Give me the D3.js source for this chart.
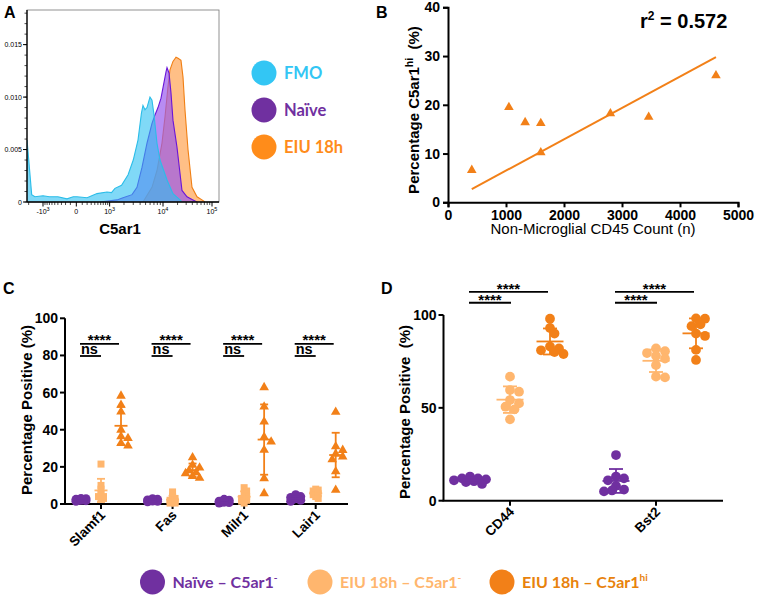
<!DOCTYPE html>
<html><head><meta charset="utf-8">
<script src="https://cdn.jsdelivr.net/npm/d3@7"></script>
<style>body{margin:0;background:#fff}svg{display:block}text{white-space:pre}</style>
</head><body><svg id="fig" width="758" height="598"></svg>
<script>
// ---------- DATA ----------
// Panel A: histogram outlines (C5ar1 channel value, density)
const fmoX = [-2150,-2150,-1742,-1500,-1000,-700,-400,-168,-50,10,200,470,867,1100,1310,1790,2400,3000,3662,4230,4500,4884,5296,5977,6476,7017,7896,8888,12120,16100,22450,24640];
const fmoY = [0,0.0059,0.0007,0.0005,0.0006,0.0005,0.0005,0.0003,0.0005,0.0005,0.0004,0.0008,0.00095,0.0009,0.0013,0.0016,0.0026,0.0040,0.0059,0.0085,0.0092,0.0088,0.0090,0.0100,0.0097,0.0083,0.0056,0.0040,0.0021,0.0008,0.0002,0];
const naiveX = [574,1445,1911,2844,3512,4320,5296,6476,7297,8217,9250,10000,11550,12120,13330,14650,16100,19480,24640,31160,41280,49800];
const naiveY = [0,0.0002,0.0004,0.0007,0.0014,0.0033,0.0056,0.0075,0.0083,0.0090,0.0099,0.0109,0.0124,0.0128,0.0123,0.0104,0.0078,0.0052,0.0011,0.0005,0.0002,0];
const eiuX = [4500,6476,7896,9600,11000,12700,13960,16100,18600,20450,23500,25850,28360,32680,39400,49800,62800,72100];
const eiuY = [0,0.0014,0.0030,0.0056,0.0081,0.0110,0.0126,0.0134,0.0138,0.0137,0.0135,0.0119,0.0088,0.0050,0.0014,0.0005,0.0002,0];
const aXTicks = [-1000,0,1000,10000,100000];
const aXTickBase = ["-10","0","10","10","10"];
const aXTickExp = ["3","","3","4","5"];
const aYTicks = [0,0.005,0.010,0.015];
const aYTickLabels = ["0","0.005","0.010","0.015"];
const aLegend = ["FMO","Naïve","EIU 18h"];

// Panel B: scatter + fitted line
const bCount = [410,1050,1330,1600,1600,2800,3460,4620];
const bPct = [6.6,19.5,16.4,16.2,10.2,18.2,17.5,26.0];
const bFitX = [410,4620];
const bFitY = [2.7,29.8];
const bXTicks = [0,1000,2000,3000,4000,5000];
const bYTicks = [0,10,20,30,40];

// Panel C: percentage positive per marker, three groups
const cCats = ["Slamf1","Fas","Milr1","Lair1"];
const cNaive = [[1.5,2,2.5,3,2,1.8,2.8,2.2],[1.5,2,2.5,1.8,2.2,1.2,2.8,1.6],[0.5,1,1.5,2,1,0.8,1.2,2.5],[1.5,2.5,3,3.5,4,5,2,3]];
const cEiuNeg = [[21.5,10,8,5,4,3,3,4],[6.5,4,3,2,1.5,1,0.5,0.5],[8.8,7,5,4,3,2,1.5,0.5],[8,7.5,7,6,5.5,5,4,3]];
const cEiuHi = [[58.2,53.3,49.7,39.9,36.3,35.4,32.7,31.4],[25,21,19.5,18,17,16.5,15,14],[62.8,52.4,44.3,36,33.5,29.1,13.8,5.7],[49.5,31,29,27,25.5,24,17.5,7.5]];
const cYTicks = [0,20,40,60,80,100];
const cSigTop = ["****","****","****","****"];
const cSigLow = ["ns","ns","ns","ns"];

// Panel D
const dCats = ["CD44","Bst2"];
const dNaive = [[10,11,12,13,11.5,10.5,9,12],[24.6,13,12,11,8,6,5.5,5]];
const dEiuNeg = [[66.8,59.6,58.7,54.2,52.4,50.6,49.2,43.8],[82,80.5,79.5,78,76.5,73,66.8,66.4]];
const dEiuHi = [[98,93,90,83,82,81,80,79],[98.2,98,95,94,90,88.7,81.2,75.8]];
const dYTicks = [0,50,100];
const dSigTop = ["****","****"];
const dSigLow = ["****","****"];

const groupNames = ["Naïve – C5ar1","EIU 18h – C5ar1","EIU 18h – C5ar1"];
const groupSup = ["-","-","hi"];

// ---------- STYLE ----------
const FONT = "Arial, 'Liberation Sans', sans-serif";
const LFONT = "Lato, 'Open Sans', sans-serif";
const cPurple = "#7030a0", cLight = "#ffb66e", cOrange = "#f28018";
const groupColors = [cPurple, cLight, cOrange];

const svg = d3.select("#fig").style("font-family", FONT);

function panelLetter(t, x, y){
  svg.append("text").attr("x",x).attr("y",y).attr("font-size",16).attr("font-weight","bold").text(t);
}
panelLetter("A",4,18); panelLetter("B",376,18); panelLetter("C",3,294); panelLetter("D",381,294);

// ---------- PANEL A ----------
(function(){
  const x = d3.scaleSymlog().constant(400).domain([-1000,1e4,1e5]).range([43,163,212]);
  const y = d3.scaleLinear().domain([0,0.0183]).range([202,10]);
  const g = svg.append("g");
  g.append("clipPath").attr("id","clipA").append("rect").attr("x",27).attr("y",10).attr("width",192).attr("height",192);
  const plot = g.append("g").attr("clip-path","url(#clipA)");
  const series = [
    {xs:eiuX, ys:eiuY, fill:"#ff9c45", op:0.65, stroke:"#f07f14"},
    {xs:naiveX, ys:naiveY, fill:"#9656ee", op:0.68, stroke:"#6a16d8"},
    {xs:fmoX, ys:fmoY, fill:"#2cbff2", op:0.6, stroke:"#2bbde8"}
  ];
  series.forEach(s=>{
    const idx = d3.range(s.xs.length);
    plot.append("path").attr("d", d3.area().x(i=>x(s.xs[i])).y0(y(0)).y1(i=>y(s.ys[i]))(idx))
      .attr("fill", s.fill).attr("fill-opacity", s.op);
    plot.append("path").attr("d", d3.line().x(i=>x(s.xs[i])).y(i=>y(s.ys[i]))(idx))
      .attr("fill","none").attr("stroke", s.stroke).attr("stroke-width",1.1);
  });
  g.append("rect").attr("x",27).attr("y",10).attr("width",192).attr("height",192)
    .attr("fill","none").attr("stroke","#777").attr("stroke-width",0.8);
  g.append("line").attr("x1",27).attr("x2",27).attr("y1",10).attr("y2",202).attr("stroke","#000").attr("stroke-width",1.3);
  g.append("line").attr("x1",27).attr("x2",219).attr("y1",202).attr("y2",202).attr("stroke","#000").attr("stroke-width",1.3);
  const yMinor = d3.range(0,0.0185,0.001);
  g.selectAll(".aym").data(yMinor).join("line").attr("x1",24.5).attr("x2",27).attr("y1",d=>y(d)).attr("y2",d=>y(d)).attr("stroke","#000").attr("stroke-width",0.7);
  g.selectAll(".ayM").data(aYTicks).join("line").attr("x1",23).attr("x2",27).attr("y1",d=>y(d)).attr("y2",d=>y(d)).attr("stroke","#000").attr("stroke-width",1);
  g.selectAll(".ayl").data(aYTicks).join("text").attr("x",22).attr("y",d=>y(d)+2.5).attr("text-anchor","end")
    .attr("font-size",7).text((d,i)=>aYTickLabels[i]);
  const xMinor = [-2000].concat(d3.range(-900,0,100), d3.range(100,1000,100), d3.range(2000,10000,1000), d3.range(20000,100000,10000));
  g.selectAll(".axm").data(xMinor).join("line").attr("x1",d=>x(d)).attr("x2",d=>x(d)).attr("y1",202).attr("y2",205).attr("stroke","#000").attr("stroke-width",0.7);
  g.selectAll(".axM").data(aXTicks).join("line").attr("x1",d=>x(d)).attr("x2",d=>x(d)).attr("y1",202).attr("y2",206.5).attr("stroke","#000").attr("stroke-width",1);
  const xl = g.selectAll(".axl").data(aXTicks).join("text").attr("x",d=>x(d)).attr("y",214).attr("text-anchor","middle").attr("font-size",7);
  xl.append("tspan").text((d,i)=>aXTickBase[i]);
  xl.append("tspan").attr("dy",-3.5).attr("font-size",5.5).text((d,i)=>aXTickExp[i]);
  g.append("text").attr("x",120).attr("y",234).attr("text-anchor","middle").attr("font-size",15).attr("font-weight","bold").text("C5ar1");
  const legCols = ["#33c6f4", cPurple, "#ff8c1a"];
  aLegend.forEach((t,i)=>{
    const cy = 73 + i*37;
    g.append("circle").attr("cx",264).attr("cy",cy).attr("r",12.5).attr("fill",legCols[i]);
    g.append("text").attr("x",284).attr("y",cy+6).attr("font-family",LFONT).attr("font-weight","bold").attr("font-size",16.5).attr("fill",legCols[i]).text(t);
  });
})();

// ---------- PANEL B ----------
(function(){
  const x = d3.scaleLinear().domain([0,5000]).range([448,738]);
  const y = d3.scaleLinear().domain([0,40]).range([202.3,7.3]);
  const g = svg.append("g");
  const ya = g.append("g").attr("transform","translate(448,0)").call(d3.axisLeft(y).tickValues(bYTicks).tickSize(5).tickPadding(3).tickFormat(d3.format("d")));
  const xa = g.append("g").attr("transform","translate(0,202.3)").call(d3.axisBottom(x).tickValues(bXTicks).tickSize(5).tickPadding(3).tickFormat(d3.format("d")));
  [ya,xa].forEach(a=>{
    a.select(".domain").attr("stroke","#000").attr("stroke-width",2);
    a.selectAll("line").attr("stroke","#000").attr("stroke-width",2);
    a.selectAll("text").attr("font-size",14).attr("font-weight","bold").attr("font-family",FONT).attr("fill","#000");
  });
  g.append("path").attr("d", d3.line().x((d,i)=>x(bFitX[i])).y((d,i)=>y(bFitY[i]))(bFitX))
    .attr("stroke",cOrange).attr("stroke-width",2).attr("fill","none");
  g.selectAll(".bp").data(bCount).join("path")
    .attr("transform",(d,i)=>`translate(${x(d)},${y(bPct[i])})`)
    .attr("d", d3.symbol(d3.symbolTriangle).size(40)).attr("fill",cOrange);
  const yl = g.append("text").attr("transform","translate(419,110) rotate(-90)").attr("text-anchor","middle").attr("font-size",15).attr("font-weight","bold");
  yl.append("tspan").text("Percentage C5ar1");
  yl.append("tspan").attr("dy",-6).attr("font-size",10.5).text("hi");
  yl.append("tspan").attr("dy",6).text("  (%)");
  g.append("text").attr("x",593).attr("y",234).attr("text-anchor","middle").attr("font-size",15).text("Non-Microglial CD45 Count (n)");
  const r2 = g.append("text").attr("x",640).attr("y",28).attr("font-size",20).attr("font-weight","bold");
  r2.append("tspan").text("r");
  r2.append("tspan").attr("dy",-8).attr("font-size",12).text("2");
  r2.append("tspan").attr("dy",8).text(" = 0.572");
})();

// ---------- shared dot plot helpers ----------
// deterministic spread of overlapping points (GraphPad-like scatter)
function swarm(vals, yScale, cx, minDist, step, maxOff){
  const idx = d3.range(vals.length).sort((a,b)=>vals[b]-vals[a]);
  const placed = [], out = new Array(vals.length);
  const nMax = Math.floor(maxOff/step);
  idx.forEach(i=>{
    const yy = yScale(vals[i]);
    let best = null, bestD = -1;
    for(let k=0;k<=2*nMax;k++){
      const off = k===0 ? 0 : (k%2 ? 1 : -1)*Math.ceil(k/2)*step;
      const xx = cx+off;
      const dmin = placed.length ? d3.min(placed, p=>Math.hypot(p[0]-xx,p[1]-yy)) : Infinity;
      if(dmin >= minDist){ best=[xx,yy]; break; }
      if(dmin > bestD){ bestD=dmin; best=[xx,yy]; }
    }
    placed.push(best); out[i]=best;
  });
  return out;
}

function dotPanel(opt){
  const g = svg.append("g");
  const y = d3.scaleLinear().domain([0,100]).range(opt.yRange);
  const xc = d3.scalePoint().domain(opt.cats).range(opt.catRange);
  const off = d3.scalePoint().domain([0,1,2]).range([-opt.gap, opt.gap]);
  g.append("line").attr("x1",opt.axisX).attr("x2",opt.axisX).attr("y1",y(0)).attr("y2",y(100)).attr("stroke","#000").attr("stroke-width",2);
  g.append("line").attr("x1",opt.axisX-1).attr("x2",opt.xEnd).attr("y1",y(0)).attr("y2",y(0)).attr("stroke","#000").attr("stroke-width",2);
  g.selectAll(".yt").data(opt.yTicks).join("line").attr("x1",opt.axisX-5).attr("x2",opt.axisX).attr("y1",d=>y(d)).attr("y2",d=>y(d)).attr("stroke","#000").attr("stroke-width",2);
  g.selectAll(".ytl").data(opt.yTicks).join("text").attr("x",opt.axisX-7).attr("y",d=>y(d)+5).attr("text-anchor","end").attr("font-size",14).attr("font-weight","bold").text(d=>d);
  g.selectAll(".xt").data(opt.cats).join("line").attr("x1",d=>xc(d)).attr("x2",d=>xc(d)).attr("y1",y(0)).attr("y2",y(0)+5).attr("stroke","#000").attr("stroke-width",2);
  g.selectAll(".xtl").data(opt.cats).join("text").attr("transform",d=>`translate(${xc(d)+5},${y(0)+12}) rotate(-45)`)
    .attr("text-anchor","end").attr("font-size",13.5).attr("font-weight","bold").text(d=>d);
  g.append("text").attr("transform",`translate(${opt.labelX},${opt.labelY}) rotate(-90)`).attr("text-anchor","middle")
    .attr("font-size",15).attr("font-weight","bold").text(opt.yLabel);
  const sets = [opt.naive, opt.neg, opt.hi];
  opt.cats.forEach((c,ci)=>{
    sets.forEach((set,gi)=>{
      const vals = set[ci];
      const cx = xc(c)+off(gi);
      const shape = opt.shapes[gi];
      const sp = opt.spread[gi];
      const pos = swarm(vals, y, cx, sp[0], sp[1], sp[2]);
      g.selectAll(null).data(pos).join("path").attr("transform",p=>`translate(${p[0]},${p[1]})`)
        .attr("d", d3.symbol(shape.type).size(shape.size)).attr("fill",groupColors[gi]);
      const m = d3.mean(vals), sd = d3.deviation(vals);
      const col = groupColors[gi];
      g.append("line").attr("x1",cx-opt.meanW).attr("x2",cx+opt.meanW).attr("y1",y(m)).attr("y2",y(m)).attr("stroke",col).attr("stroke-width",1.8);
      g.append("line").attr("x1",cx).attr("x2",cx).attr("y1",y(Math.max(0,m-sd))).attr("y2",y(m+sd)).attr("stroke",col).attr("stroke-width",1.8);
      [m+sd, m-sd].forEach(v=>{ if(v>0) g.append("line").attr("x1",cx-opt.capW).attr("x2",cx+opt.capW).attr("y1",y(v)).attr("y2",y(v)).attr("stroke",col).attr("stroke-width",1.8); });
    });
    const x0 = xc(c)+off(0)-1;
    [[opt.sigTop[ci], opt.sigTopY, xc(c)+off(2)-2, opt.topFont],[opt.sigLow[ci], opt.sigLowY, xc(c)+off(1)+opt.lowEndAdj, opt.lowFont]].forEach(([txt,vy,x1,fs])=>{
      g.append("line").attr("x1",x0).attr("x2",x1).attr("y1",y(vy)).attr("y2",y(vy)).attr("stroke","#000").attr("stroke-width",1.8);
      const isNs = txt==="ns";
      g.append("text").attr("x", isNs ? x0+1 : (x0+x1)/2).attr("y", y(vy)+(isNs?-1.5:opt.starDy))
        .attr("text-anchor", isNs ? "start" : "middle").attr("font-size",fs).attr("font-weight","bold").text(txt);
    });
  });
}

dotPanel({cats:cCats, yRange:[504,318.3], catRange:[101,315.7], gap:20, axisX:65, xEnd:348,
  yTicks:cYTicks, labelX:32, labelY:410, yLabel:"Percentage Positive (%)",
  naive:cNaive, neg:cEiuNeg, hi:cEiuHi,
  shapes:[{type:d3.symbolCircle,size:64},{type:d3.symbolSquare,size:49},{type:d3.symbolTriangle,size:40}],
  spread:[[4,2.5,6],[3.5,2.5,4],[6,3.5,8]],
  meanW:6.5, capW:4, sigTop:cSigTop, sigLow:cSigLow, sigTopY:86.2, sigLowY:79.7, lowEndAdj:0, topFont:15, lowFont:14.5, starDy:1.5});

dotPanel({cats:dCats, yRange:[500.7,315], catRange:[510,656], gap:40, axisX:443.5, xEnd:723,
  yTicks:dYTicks, labelX:410, labelY:412, yLabel:"Percentage Positive  (%)",
  naive:dNaive, neg:dEiuNeg, hi:dEiuHi,
  shapes:[{type:d3.symbolCircle,size:75},{type:d3.symbolCircle,size:75},{type:d3.symbolCircle,size:75}],
  spread:[[6,4,18],[7,4.5,14],[7,4.5,14]],
  meanW:13.5, capW:7, sigTop:dSigTop, sigLow:dSigLow, sigTopY:112.5, sigLowY:106.6, lowEndAdj:1, topFont:15, lowFont:15, starDy:2.5});

// ---------- bottom legend ----------
(function(){
  const cxs = [152.5, 320, 502];
  const g = svg.append("g");
  groupNames.forEach((t,i)=>{
    g.append("circle").attr("cx",cxs[i]).attr("cy",582).attr("r",12.5).attr("fill",groupColors[i]);
    const tx = g.append("text").attr("x",cxs[i]+20).attr("y",588).attr("font-family",LFONT).attr("font-weight","bold").attr("font-size",16).attr("fill", i===2 ? "#e8820c" : groupColors[i]);
    tx.append("tspan").text(t);
    tx.append("tspan").attr("dy",-7).attr("font-size",10).text(groupSup[i]);
  });
})();
</script></body></html>
